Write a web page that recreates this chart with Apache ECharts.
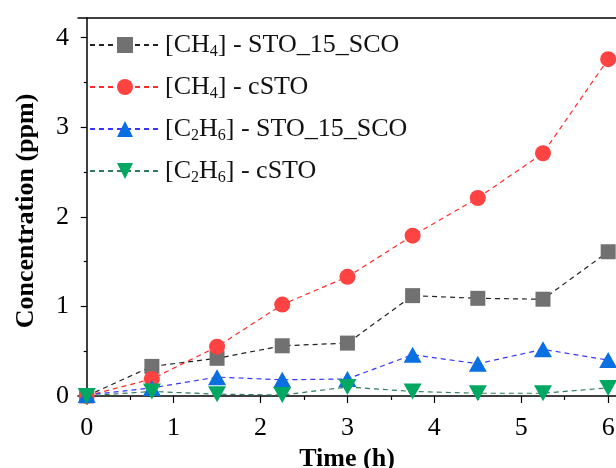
<!DOCTYPE html>
<html>
<head>
<meta charset="utf-8">
<script src="https://cdn.jsdelivr.net/npm/echarts@6/dist/echarts.min.js"></script>
<style>
  html, body { margin: 0; padding: 0; background: #fff; }
  #main { width: 616px; height: 468px; }
</style>
</head>
<body>
<div id="main"></div>
<script>
// time points (h)
var times = [0, 0.75, 1.5, 2.25, 3, 3.75, 4.5, 5.25, 6];
// concentrations (ppm)
var ch4Sto15 = [0, 0.33, 0.42, 0.56, 0.59, 1.12, 1.09, 1.08, 1.61];
var ch4Csto = [0, 0.19, 0.55, 1.02, 1.33, 1.79, 2.21, 2.71, 3.76];
var c2h6Sto15 = [0.01, 0.09, 0.21, 0.18, 0.19, 0.46, 0.36, 0.52, 0.40];
var c2h6Csto = [0, 0.05, 0.02, 0.01, 0.10, 0.05, 0.03, 0.03, 0.09];
var seriesNames = ['[CH4] - STO_15_SCO', '[CH4] - cSTO', '[C2H6] - STO_15_SCO', '[C2H6] - cSTO'];
var legendRich = {
    '[CH4] - STO_15_SCO': '{n|[CH}{s|4}{n|] - STO_15_SCO}',
    '[CH4] - cSTO': '{n|[CH}{s|4}{n|] - cSTO}',
    '[C2H6] - STO_15_SCO': '{n|[C}{s|2}{n|H}{s|6}{n|] - STO_15_SCO}',
    '[C2H6] - cSTO': '{n|[C}{s|2}{n|H}{s|6}{n|] - cSTO}'
};
var xMajor = [0, 1, 2, 3, 4, 5, 6];
var xMinor = [0.5, 1.5, 2.5, 3.5, 4.5, 5.5];
var yMajor = [0, 1, 2, 3, 4];
var yMinor = [0.5, 1.5, 2.5, 3.5];

var font = '"Palatino Linotype", "Book Antiqua", Palatino, "Liberation Serif", "DejaVu Serif", serif';

function pairs(vals) {
    return times.map(function (t, i) { return [t, vals[i]]; });
}

var chartDom = document.getElementById('main');
var myChart = echarts.init(chartDom);
var option;

var xBase = { type: 'value', min: -0.1, max: 6.09, splitLine: { show: false } };
var yBase = { type: 'value', min: -0.09, max: 4.22, splitLine: { show: false } };
var axisLine = { show: true, lineStyle: { color: '#000', width: 1.5 } };

option = {
    animation: false,
    grid: { left: 78, right: 0, top: 18, bottom: 64, containLabel: false, outerBoundsMode: 'none' },
    legend: {
        orient: 'vertical',
        left: 84,
        top: 27,
        itemWidth: 70,
        itemHeight: 20,
        itemGap: 14,
        data: seriesNames,
        formatter: function (name) { return legendRich[name]; },
        textStyle: {
            fontFamily: font,
            rich: {
                n: { fontSize: 26, fontFamily: font, color: '#111', lineHeight: 30, verticalAlign: 'middle' },
                s: { fontSize: 16, fontFamily: font, color: '#111', lineHeight: 14, verticalAlign: 'bottom' }
            }
        }
    },
    xAxis: [
        Object.assign({}, xBase, {
            position: 'bottom',
            name: 'Time (h)',
            nameLocation: 'middle',
            nameGap: 42,
            nameTextStyle: { fontFamily: font, fontSize: 26, fontWeight: 'bold', color: '#000' },
            axisLine: axisLine,
            axisTick: { show: true, length: 7, lineStyle: { color: '#000', width: 1.2 }, customValues: xMajor },
            axisLabel: { fontFamily: font, fontSize: 26, color: '#000', margin: 11, customValues: xMajor }
        }),
        Object.assign({}, xBase, {
            position: 'bottom',
            axisLine: { show: false },
            axisTick: { show: true, length: 4, lineStyle: { color: '#000', width: 1.2 }, customValues: xMinor },
            axisLabel: { show: false }
        }),
        Object.assign({}, xBase, {
            position: 'top',
            axisLine: axisLine,
            axisTick: { show: false },
            axisLabel: { show: false }
        })
    ],
    yAxis: [
        Object.assign({}, yBase, {
            position: 'left',
            name: 'Concentration (ppm)',
            nameLocation: 'middle',
            nameGap: 39,
            nameTextStyle: { fontFamily: font, fontSize: 26, fontWeight: 'bold', color: '#000' },
            axisLine: axisLine,
            axisTick: { show: true, length: 6, lineStyle: { color: '#000', width: 1.2 }, customValues: yMajor },
            axisLabel: { fontFamily: font, fontSize: 26, color: '#000', margin: 9, customValues: yMajor }
        }),
        Object.assign({}, yBase, {
            position: 'left',
            axisLine: { show: false },
            axisTick: { show: true, length: 3, lineStyle: { color: '#000', width: 1.2 }, customValues: yMinor },
            axisLabel: { show: false }
        })
    ],
    series: [
        {
            name: seriesNames[0],
            type: 'line',
            data: pairs(ch4Sto15),
            symbol: 'rect',
            symbolSize: 15,
            itemStyle: { color: '#717171' },
            lineStyle: { color: '#222', width: 1.2, type: [5, 4] }
        },
        {
            name: seriesNames[1],
            type: 'line',
            data: pairs(ch4Csto),
            symbol: 'circle',
            symbolSize: 16,
            itemStyle: { color: '#ff4242' },
            lineStyle: { color: '#ff2a2a', width: 1.2, type: [5, 4] }
        },
        {
            name: seriesNames[2],
            type: 'line',
            data: pairs(c2h6Sto15),
            symbol: 'triangle',
            symbolSize: [18, 16],
            itemStyle: { color: '#0a6fe0' },
            lineStyle: { color: '#3535ff', width: 1.2, type: [5, 4] }
        },
        {
            name: seriesNames[3],
            type: 'line',
            data: pairs(c2h6Csto),
            symbol: 'triangle',
            symbolRotate: 180,
            symbolSize: [18, 16],
            itemStyle: { color: '#00a862' },
            lineStyle: { color: '#2e7a5a', width: 1.2, type: [5, 4] }
        }
    ]
};

option && myChart.setOption(option);
</script>
</body>
</html>
